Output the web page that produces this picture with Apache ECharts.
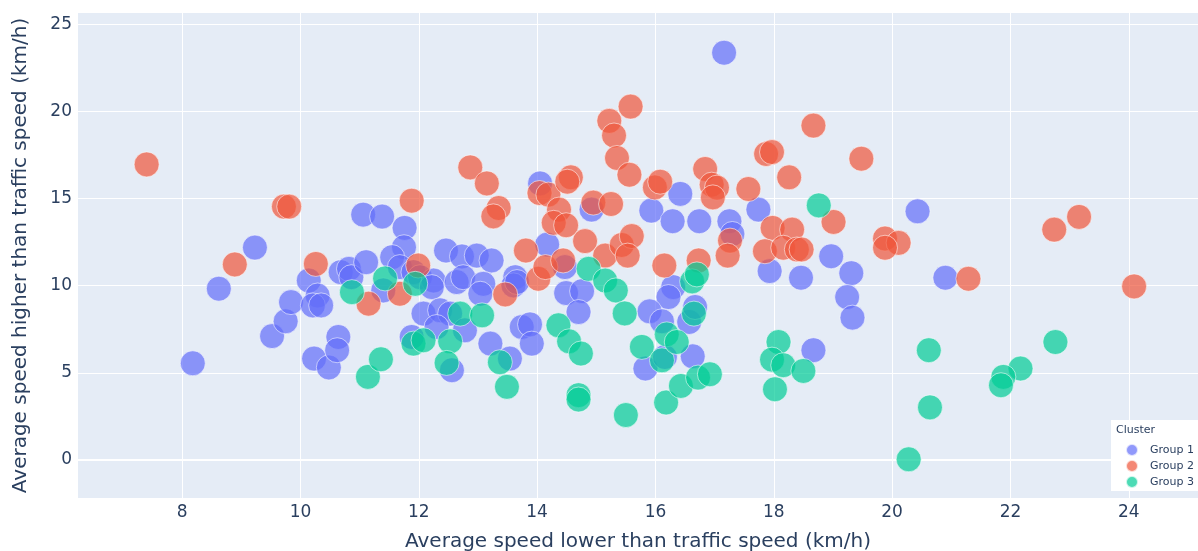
<!DOCTYPE html>
<html>
<head>
<meta charset="utf-8">
<script src="https://cdn.jsdelivr.net/npm/echarts@6/dist/echarts.min.js"></script>
<style>
html,body{margin:0;padding:0;background:#fff;}
#chart{width:1198px;height:551px;}
</style>
</head>
<body>
<div id="chart"></div>
<script>
// ---- data (x: lower than traffic speed, y: higher than traffic speed) ----
const seriesNames = ['Group 1', 'Group 2', 'Group 3'];
const xTicks = [8, 10, 12, 14, 16, 18, 20, 22, 24];
const yTicks = [0, 5, 10, 15, 20, 25];

const group1 = [
  [17.16,23.37],[8.18,5.55],[8.62,9.83],[9.23,12.19],[9.52,7.11],[9.75,7.96],[9.84,9.06],
  [10.14,10.30],[10.29,9.44],[10.21,8.87],[10.35,8.87],[10.23,5.82],[10.48,5.31],[10.64,7.06],
  [10.62,6.30],[10.68,10.78],[10.82,10.97],[10.86,10.49],[11.11,11.35],[11.06,14.08],[11.38,13.97],
  [11.76,13.32],[11.75,12.21],[11.55,11.64],[11.68,11.07],[11.91,10.78],[12.02,10.49],[11.40,9.73],
  [12.25,10.30],[12.22,9.92],[12.46,12.02],[12.73,11.68],[12.98,11.73],[13.23,11.45],[12.64,10.21],
  [12.75,10.49],[13.09,10.11],[13.04,9.54],[13.63,10.49],[13.60,10.02],[12.08,8.40],[12.36,8.59],
  [12.53,8.40],[12.30,7.63],[12.78,7.44],[11.88,7.06],[13.21,6.68],[13.54,5.82],[12.56,5.15],
  [13.74,7.63],[13.88,7.78],[13.91,6.68],[14.05,15.87],[14.92,14.37],[14.17,12.36],[13.66,10.21],
  [14.47,11.07],[14.49,9.58],[14.76,9.69],[14.70,8.49],[15.83,5.25],[15.93,14.31],[16.42,15.27],
  [16.29,13.70],[16.74,13.70],[17.25,13.70],[17.30,12.97],[16.30,9.92],[16.22,9.35],[15.90,8.53],
  [16.11,7.96],[16.57,7.92],[16.67,8.78],[16.63,5.95],[16.16,5.91],[17.74,14.37],[17.93,10.84],
  [18.46,10.46],[18.97,11.69],[19.31,10.72],[19.24,9.35],[19.33,8.17],[18.67,6.30],[20.43,14.27],
  [20.90,10.46]
];

const group2 = [
  [7.40,16.96],[9.72,14.54],[9.81,14.54],[8.89,11.22],[10.26,11.25],[11.15,8.97],[11.68,9.54],
  [11.99,11.16],[11.88,14.88],[12.87,16.79],[13.15,15.87],[13.35,14.46],[13.26,13.98],[13.46,9.50],
  [13.81,12.02],[14.02,10.40],[14.14,11.07],[14.44,11.45],[14.04,15.32],[14.19,15.23],[14.57,16.22],
  [14.51,15.97],[14.37,14.37],[14.28,13.61],[14.49,13.47],[14.95,14.77],[15.25,14.69],[14.81,12.56],
  [15.15,11.73],[15.43,12.34],[15.60,12.85],[15.53,11.73],[15.58,20.28],[15.22,19.46],[15.30,18.62],
  [15.35,17.33],[15.56,16.37],[15.99,15.64],[16.08,15.97],[16.84,16.70],[16.95,15.80],[17.04,15.63],
  [16.97,15.07],[17.57,15.55],[17.26,12.59],[17.22,11.73],[16.15,11.16],[16.73,11.45],[18.67,19.19],
  [17.87,17.56],[17.97,17.67],[19.48,17.29],[18.26,16.22],[19.01,13.66],[17.98,13.32],[18.31,13.22],
  [19.88,12.71],[20.11,12.46],[19.88,12.18],[17.85,11.98],[18.16,12.18],[18.39,12.08],[18.47,12.08],
  [21.29,10.40],[24.09,9.96],[22.74,13.22],[23.16,13.95]
];

const group3 = [
  [18.76,14.61],[10.87,9.63],[11.43,10.42],[11.94,10.11],[11.14,4.77],[11.36,5.78],[11.91,6.68],
  [12.08,6.87],[12.53,6.81],[12.47,5.57],[12.70,8.40],[13.07,8.30],[13.37,5.61],[13.49,4.20],
  [14.87,10.97],[15.15,10.30],[15.33,9.73],[15.48,8.41],[14.36,7.73],[14.54,6.81],[14.74,6.11],
  [15.77,6.49],[14.70,3.72],[14.70,3.47],[15.50,2.58],[16.11,5.72],[16.19,7.21],[16.36,6.77],
  [16.65,8.40],[16.62,10.25],[16.70,10.65],[16.18,3.30],[16.43,4.25],[16.72,4.73],[16.92,4.92],
  [18.08,6.77],[17.97,5.76],[18.16,5.44],[18.50,5.11],[18.02,4.06],[20.28,0.04],[20.62,6.30],
  [20.64,3.02],[22.76,6.77],[22.17,5.25],[21.88,4.77],[21.84,4.29]
];

const groups = [group1, group2, group3];
const colors = ['#636efa', '#EF553B', '#00cc96'];

const FONT = 'Verdana, "DejaVu Sans", sans-serif';
const TXT = '#2a3f5f';

const chart = echarts.init(document.getElementById('chart'), null, {renderer: 'canvas'});

const option = {
  animation: false,
  backgroundColor: '#ffffff',
  textStyle: {fontFamily: FONT, color: TXT},
  grid: {left: 78, right: 0, top: 13, bottom: 53, outerBoundsMode: 'none', containLabel: false,
         show: true, backgroundColor: '#E5ECF6', borderWidth: 0},
  xAxis: {
    type: 'value',
    min: 6.24, max: 25.17,
    name: 'Average speed lower than traffic speed (km/h)',
    nameLocation: 'middle', nameGap: 34,
    nameTextStyle: {fontFamily: FONT, color: TXT, fontSize: 20},
    axisLine: {show: true, onZero: true, lineStyle: {color: '#ffffff', width: 2}},
    axisTick: {show: false, customValues: xTicks},
    axisLabel: {customValues: xTicks, fontFamily: FONT, color: TXT, fontSize: 17, margin: 6},
    splitLine: {show: true, lineStyle: {color: '#ffffff', width: 1}}
  },
  yAxis: {
    type: 'value',
    min: -2.18, max: 25.65,
    name: 'Average speed higher than traffic speed (km/h)',
    nameLocation: 'middle', nameGap: 47, nameRotate: 90,
    nameTextStyle: {fontFamily: FONT, color: TXT, fontSize: 20},
    axisLine: {show: false},
    axisTick: {show: false, customValues: yTicks},
    axisLabel: {customValues: yTicks, fontFamily: FONT, color: TXT, fontSize: 17, margin: 6},
    splitLine: {show: true, lineStyle: {color: '#ffffff', width: 1}}
  },
  legend: {
    orient: 'vertical',
    left: 1125, top: 443,
    padding: 0,
    itemWidth: 26, itemHeight: 12, itemGap: 2,
    icon: 'circle',
    z: 8,
    textStyle: {fontFamily: FONT, color: TXT, fontSize: 11},
    data: seriesNames
  },
  graphic: [
    {type: 'rect', z: 5, zlevel: 0, shape: {x: 1111, y: 420, width: 87, height: 71}, style: {fill: '#ffffff'}},
    {type: 'text', z: 9, left: 1116, top: 425, style: {text: 'Cluster', font: '11px ' + FONT, fill: TXT}}
  ],
  series: groups.map((g, i) => ({
    name: seriesNames[i],
    type: 'scatter',
    data: g,
    symbolSize: 25,
    itemStyle: {color: colors[i], opacity: 0.7, borderColor: '#ffffff', borderWidth: 0.8},
    emphasis: {disabled: true}
  }))
};

chart.setOption(option);
</script>
</body>
</html>
